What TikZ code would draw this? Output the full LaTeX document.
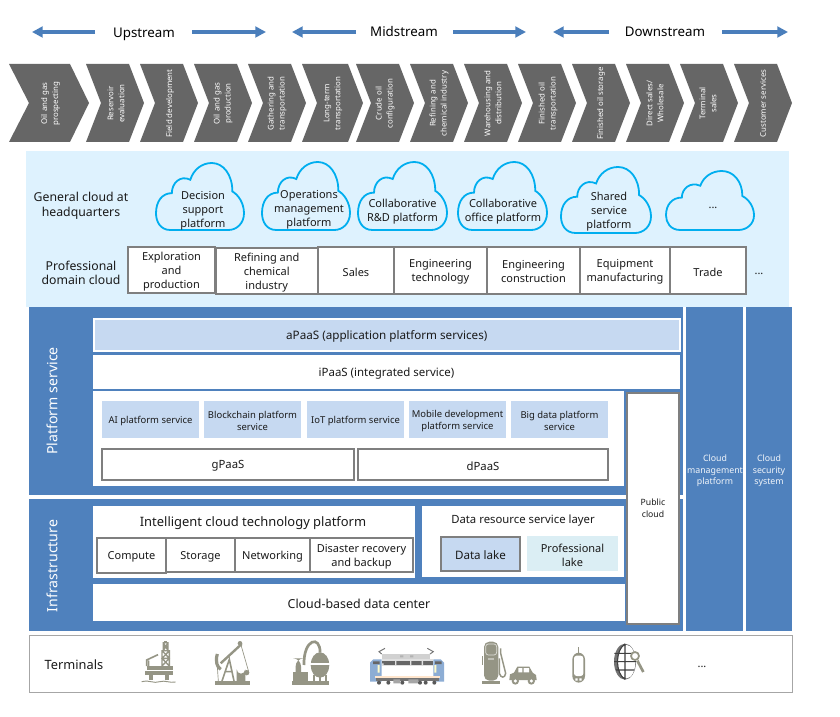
\documentclass[tikz,border=0pt]{standalone}
\usepackage{fontspec}
\setmainfont{Noto Sans}
\usetikzlibrary{arrows.meta}
\definecolor{band}{HTML}{4F81BD}
\definecolor{arrowc}{HTML}{4A7EBB}
\definecolor{chev}{HTML}{666666}
\definecolor{pale}{HTML}{DEF2FE}
\definecolor{cloudc}{HTML}{00AEEF}
\definecolor{greyl}{HTML}{7F7F7F}
\definecolor{lightb}{HTML}{C6D9F1}
\definecolor{lake}{HTML}{DBEEF4}
\definecolor{iconc}{HTML}{959585}
\definecolor{txt}{HTML}{1A1A1A}
\tikzset{
 lbl/.style={font=\fontsize{8.25}{10.5}\selectfont,align=center,inner sep=0pt,text=txt},
 fs/.style={font=\fontsize{#1}{10.5}\selectfont},
 small/.style={font=\fontsize{7.1}{9}\selectfont,align=center,inner sep=0pt,text=txt},
 chevt/.style={font=\fontsize{5.9}{8.2}\selectfont,align=center,inner sep=0pt,text=white,rotate=90},
 sidet/.style={font=\fontsize{6.6}{8.6}\selectfont,align=center,inner sep=0pt,text=white!92!band},
 titlet/.style={font=\fontsize{10.6}{12}\selectfont,inner sep=0pt,text=white,rotate=90},
 headt/.style={font=\fontsize{10}{12}\selectfont,inner sep=0pt,text=black},
 flowarrow/.style={arrowc,line width=2.5pt,-{Triangle[length=8pt,width=8pt]}},
 whitebox/.style={fill=white},
 greybox/.style={fill=white,draw=greyl,line width=1.5pt},
 blueband/.style={fill=band},
 softbox/.style={fill=lightb},
 cloudline/.style={draw=cloudc,line width=1.35pt}
}
% name, box style, text style, x0,y0,x1,y1, text
\newcommand{\bx}[8]{%
 \pgfmathsetmacro\myw{(#6-#4)*.75}\pgfmathsetmacro\myh{(#7-#5)*.75}%
 \node[#2,inner sep=0pt,minimum width=\myw pt,minimum height=\myh pt] (#1) at ({(#4+#6)/2},{(#5+#7)/2}) {};
 \node[#3] (#1t) at ([yshift=-1.1pt]#1.center) {#8};}
\newcommand{\bb}[6]{%
 \pgfmathsetmacro\myw{(#5-#3)*.75}\pgfmathsetmacro\myh{(#6-#4)*.75}%
 \node[#2,inner sep=0pt,minimum width=\myw pt,minimum height=\myh pt] (#1) at ({(#3+#5)/2},{(#4+#6)/2}) {};}
% name, left, notch, top right, tip, text x, text
\newcommand{\chv}[7]{%
 \fill[chev] (#2,64)--(#4,64)--(#5,103)--(#4,142)--(#2,142)--(#3,103)--cycle;
 \node[chevt] (#1) at (#6,103.5) {#7};}
% x0,y0,x1,y1
\newcommand{\cld}[4]{%
 \pgfmathsetmacro\myw{(#3-#1)*.75}\pgfmathsetmacro\myh{(#4-#2)*.75}%
 \begin{scope}[shift={(#1,#2)},x=\myw pt,y=-\myh pt]
 \draw[cloudline] (.162,1) .. controls (.05,1) and (0,.875) .. (0,.75)
  .. controls (0,.575) and (.068,.45) .. (.18,.45)
  .. controls (.18,.30) and (.275,.175) .. (.39,.25)
  .. controls (.425,.10) and (.52,0) .. (.634,0)
  .. controls (.766,0) and (.868,.175) .. (.868,.425)
  .. controls (.936,.475) and (1,.6) .. (1,.75)
  .. controls (1,.9) and (.917,1) .. (.823,1) -- cycle;
 \end{scope}}
\begin{document}
\begin{tikzpicture}[x=.75pt,y=-.75pt]
\useasboundingbox (0,0) rectangle (840,717);
\fill[white] (0,0) rectangle (840,717);
% stream headers
\node[headt] (up) at (144,34) {Upstream};
\node[headt] (mid) at (404,32) {Midstream};
\node[headt] (down) at (665,32) {Downstream};
\coordinate (a1) at (32,32);\coordinate (a2) at (95,32);
\coordinate (a3) at (192,32);\coordinate (a4) at (266,32);
\coordinate (a5) at (292,32);\coordinate (a6) at (356,32);
\coordinate (a7) at (453,32);\coordinate (a8) at (526,32);
\coordinate (a9) at (553,32);\coordinate (a10) at (609,32);
\coordinate (a11) at (722,32);\coordinate (a12) at (788,32);
\draw[flowarrow] (a2)--(a1);
\draw[flowarrow] (a3)--(a4);
\draw[flowarrow] (a6)--(a5);
\draw[flowarrow] (a7)--(a8);
\draw[flowarrow] (a10)--(a9);
\draw[flowarrow] (a11)--(a12);
% value chain
\chv{c1}{9}{29}{70}{89}{50.5}{Oil and gas\\prospecting}
\chv{c2}{86}{101}{129}{144}{116}{Reservoir\\evaluation}
\chv{c3}{140}{155}{183}{198}{170}{Field development}
\chv{c4}{194}{209}{237}{252}{223}{Oil and gas\\production}
\chv{c5}{248}{263}{291}{306}{277}{Gathering and\\transportation}
\chv{c6}{302}{317}{348}{363}{333}{Long-term\\transportation}
\chv{c7}{356}{371}{399}{414}{385}{Crude oil\\configuration}
\chv{c8}{410}{425}{453}{468}{439}{Refining and\\chemical industry}
\chv{c9}{464}{479}{507}{522}{493}{Warehousing and\\distribution}
\chv{c10}{518}{533}{561}{576}{548}{Finished oil\\transportation}
\chv{c11}{572}{587}{615}{630}{601}{Finished oil storage}
\chv{c12}{626}{641}{669}{684}{655}{Direct sales/\\Wholesale}
\chv{c13}{680}{695}{723}{738}{708}{Terminal\\sales}
\chv{c14}{734}{749}{777}{792}{763}{Customer services}
% cloud panel
\fill[pale] (26,151) rectangle (789,307);
\node[lbl,font=\fontsize{9.2}{11}\selectfont] (gen) at (81,205.5) {General cloud at\\headquarters};
\node[lbl,font=\fontsize{9.2}{11}\selectfont] (prof) at (81,273) {Professional\\domain cloud};
\cld{156}{163}{244}{230}
\cld{262}{162}{350}{230}
\cld{358}{162}{447}{230}
\cld{458}{162}{547}{230}
\cld{561}{167}{651}{233}
\cld{666}{171}{754}{230}
\node[lbl] (k1) at (203,211) {Decision\\support\\platform};
\node[lbl] (k2) at (309,210) {Operations\\management\\platform};
\node[lbl] (k3) at (402.5,212) {Collaborative\\R\&D platform};
\node[lbl] (k4) at (503,212) {Collaborative\\office platform};
\node[lbl] (k5) at (609,212) {Shared\\service\\platform};
\node[lbl] (k6) at (713,208) {...};
\bx{d1}{greybox}{lbl}{128}{247}{215}{293}{Exploration\\and\\production}
\bx{d2}{greybox}{lbl}{215.5}{248}{318}{294}{Refining and\\chemical\\industry}
\bx{d3}{greybox}{lbl}{318}{247}{394}{294}{Sales}
\bx{d4}{greybox}{lbl}{394}{247}{487}{294}{Engineering\\technology}
\bx{d5}{greybox}{lbl}{487}{247}{580}{294}{Engineering\\construction}
\bx{d6}{greybox}{lbl}{580}{247}{670}{294}{Equipment\\manufacturing}
\bx{d7}{greybox}{lbl}{670}{247}{746}{294}{Trade}
\node[lbl] (dd) at (759,274) {...};
% blue bands
\bb{pb}{blueband}{29}{307}{683}{495}
\bb{ib}{blueband}{29}{499}{683}{631}
\bb{mgmt}{blueband}{686}{307}{743}{631}
\bb{sec}{blueband}{746}{307}{792}{631}
\node[sidet] (mgmtt) at (715,471) {Cloud\\management\\platform};
\node[sidet] (sect) at (769,471) {Cloud\\security\\system};
\node[titlet] (pst) at (52,401) {Platform service};
\node[titlet] (inft) at (52,566) {Infrastructure};
% platform service
\bx{apaas}{fill=lightb,draw=white,line width=1.5pt}{lbl,fs=8.75}{94}{319}{679.5}{351}{aPaaS (application platform services)}
\bx{ipaas}{whitebox}{lbl,fs=8.6}{93}{355}{680}{389}{iPaaS (integrated service)}
\bb{midw}{whitebox}{93}{391}{624}{486}
\bx{s1}{softbox}{small}{102}{401}{199}{438}{AI platform service}
\bx{s2}{softbox}{small}{204}{401}{301}{438}{Blockchain platform\\service}
\bx{s3}{softbox}{small}{307}{401}{404}{438}{IoT platform service}
\bx{s4}{softbox}{small}{409}{401}{506}{438}{Mobile development\\platform service}
\bx{s5}{softbox}{small}{511}{401}{608}{438}{Big data platform\\service}
\bx{gp}{greybox}{lbl,fs=8.5}{102}{449}{354}{480}{gPaaS}
\bx{dp}{greybox}{lbl,fs=8.5}{358}{449}{608}{480}{dPaaS}
% infrastructure
\bb{intw}{whitebox}{93}{506}{415}{578}
\node[lbl,fs=9.7] (intt) at (253,523) {Intelligent cloud technology platform};
\bx{i1}{greybox}{lbl}{97}{538}{166}{573}{Compute}
\bx{i2}{greybox}{lbl}{166}{538}{235}{572}{Storage}
\bx{i3}{greybox}{lbl}{235}{538}{310}{572}{Networking}
\bx{i4}{greybox}{lbl}{310}{538}{413}{572}{Disaster recovery\\and backup}
\bb{drw}{whitebox}{422}{506}{624}{577}
\node[lbl,fs=8.5] (drt) at (523,521) {Data resource service layer};
\bx{dl}{greybox,fill=lightb}{lbl,fs=8.7}{441}{537}{520}{571}{Data lake}
\bx{pl}{fill=lake}{lbl}{527}{536}{618}{571}{Professional\\lake}
\bx{dc}{whitebox}{lbl,fs=9.3}{93}{584}{625}{621}{Cloud-based data center}
\bb{pub}{greybox}{627}{393}{679}{624}
\node[small,font=\fontsize{6.5}{9}\selectfont] (pubt) at (653,508.5) {Public\\cloud};
% terminals
\bb{term}{draw=black!35,line width=.7pt,fill=white}{29}{635}{792}{692}
\node[lbl,fs=9.6] (termt) at (74,665) {Terminals};
\node[lbl] (td) at (702,667) {...};
\begin{scope}[shift={(130,630)},x=.25pt,y=-.25pt]
 % rig
 \fill[iconc] (45,122) rectangle (130,135);
 \fill[iconc] (50,108) rectangle (128,120);
 \fill[iconc] (58,135) rectangle (70,150);
 \fill[iconc] (105,135) rectangle (117,150);
 \draw[iconc,line width=1pt] (96,108)--(96,62)--(118,62)--(118,108) (96,62)--(118,85)--(96,108) (118,62)--(96,85)--(118,108) (96,85)--(118,85);
 \draw[iconc,line width=1pt] (100,62)--(100,38)--(114,38)--(114,62) (100,50)--(114,50) (100,38)--(114,62) (114,38)--(100,62);
 \fill[iconc] (102,32) rectangle (112,38);
 \draw[iconc,line width=1.2pt] (50,108)--(50,90)--(84,74) (56,108)--(56,92);
 \draw[iconc,line width=.7pt] (35,155) .. controls (55,148) and (70,162) .. (90,155) .. controls (105,150) and (120,160) .. (137,156);
 % pump jack
 \fill[iconc] (255,153) rectangle (360,165);
 \draw[iconc,line width=1.8pt] (272,100)--(335,42);
 \fill[iconc] (330,40) circle[radius=7];
 \draw[iconc,line width=2.4pt] (262,72) .. controls (255,95) and (262,112) .. (272,118);
 \draw[iconc,line width=1.2pt] (276,153)--(298,88)--(312,153) (286,125)--(306,125);
 \draw[iconc,line width=.5pt] (262,110)--(265,153) (333,45)--(356,125);
 \fill[iconc] (320,153) -- (320,118) arc[start angle=180,end angle=0,radius=13] -- (346,153) -- cycle;
 \fill[iconc] (350,128) circle[radius=8];
 % refinery
 \fill[iconc] (487,153) rectangle (597,165);
 \fill[iconc] (570,105) ellipse[x radius=28,y radius=38];
 \fill[white] (541,100) rectangle (600,104);
 \draw[iconc,line width=2pt] (522,105) .. controls (520,25) and (572,15) .. (570,68);
 \fill[iconc,rounded corners=6pt] (497,85) rectangle (513,153);
 \fill[iconc] (490,125) rectangle (535,153);
 \draw[iconc,line width=1.2pt] (552,135)--(552,153) (570,140)--(570,153) (588,135)--(588,153);
\end{scope}
\begin{scope}[shift={(430,630)},x=.25pt,y=-.25pt]
 % pump
 \fill[iconc,rounded corners=4pt] (162,35) rectangle (205,152);
 \draw[white!70!iconc,line width=.5pt,rounded corners=2pt] (167,42) rectangle (200,75);
 \fill[white] (175,85) rectangle (179,89) (181,85) rectangle (185,89) (187,85) rectangle (191,89);
 \fill[iconc] (155,152) rectangle (210,161);
 \fill[iconc] (156,78) rectangle (160,105);
 \draw[iconc,line width=1.1pt] (212,55) -- (212,70) -- (227,130) .. controls (225,145) and (212,145) .. (208,130) -- (208,85);
 % car
 \fill[iconc] (238,150) -- (240,133) -- (252,128) -- (262,110) -- (298,110) -- (308,128) -- (318,135) -- (320,150) -- cycle;
 \fill[white] (265,114) rectangle (277,127) (281,114) rectangle (297,127);
 \fill[iconc] (256,153) circle[radius=11] (304,153) circle[radius=11];
 \fill[white] (256,153) circle[radius=5] (304,153) circle[radius=5];
 % phone
 \fill[iconc,rounded corners=5pt] (427,68) rectangle (465,158);
 \fill[white,rounded corners=2pt] (432,77) rectangle (460,138);
 \fill[white] (436,145) rectangle (443,152) (448,145) rectangle (455,152);
 \fill[iconc] (443,52) rectangle (447,68);
 % globe
 \fill[black!55] (585,95) ellipse[x radius=33,y radius=54];
 \fill[white] (590,95) ellipse[x radius=26,y radius=50];
 \draw[black!75,line width=.8pt] (553,70)--(612,70) (552,95)--(618,95) (558,120)--(612,120) (585,42)--(585,148) (585,42) .. controls (555,60) and (555,130) .. (585,148);
 \fill[white] (615,78) circle[radius=14];
 \draw[iconc,line width=1.3pt] (615,78) circle[radius=12];
 \draw[iconc,line width=2pt] (622,92)--(640,126);
\end{scope}
% train
\begin{scope}[shift={(365,640)},x=.25pt,y=-.25pt]
 \draw[black!55,line width=.7pt] (50,42)--(42,35)--(60,25) (195,42)--(205,35)--(187,25);
 \fill[black!18] (50,42) rectangle (195,58);
 \fill[black!30] (105,46) rectangle (115,52) (135,46) rectangle (145,52);
 \fill[black!12] (50,58) rectangle (205,110);
 \fill[black!60] (50,62) rectangle (205,76);
 \fill[white] (50,78) rectangle (205,108);
 \fill[black!12] (50,70) rectangle (56,76) (90,62) rectangle (94,76) (135,62) rectangle (139,76) (170,62) rectangle (174,76);
 \fill[band!65!white] (15,68) -- (25,58) -- (50,58) -- (50,125) -- (15,125) -- cycle;
 \fill[band!65!white] (237,68) -- (227,58) -- (205,58) -- (205,125) -- (237,125) -- cycle;
 \fill[black!60] (24,64) rectangle (44,72) (210,64) rectangle (230,72);
 \fill[yellow!20!white] (38,75) rectangle (44,98) (208,75) rectangle (214,98);
 \fill[orange!20!white] (30,108) rectangle (225,114);
 \fill[black!55] (32,114) rectangle (222,124);
 \fill[black!35] (85,118) rectangle (105,130) (130,118) rectangle (160,130);
 \fill[black!65] (42,128) circle[radius=6] (70,128) circle[radius=6] (112,128) circle[radius=6] (165,128) circle[radius=6] (182,128) circle[radius=6] (208,128) circle[radius=6];
\end{scope}
\end{tikzpicture}
\end{document}
